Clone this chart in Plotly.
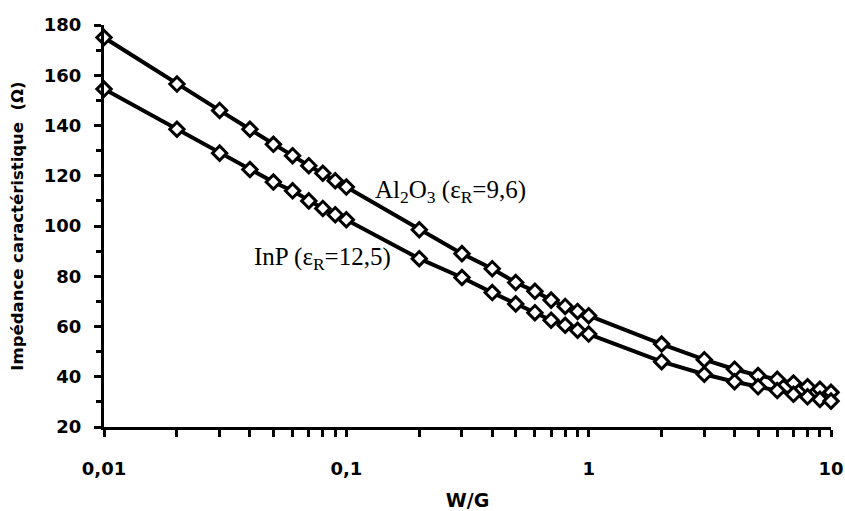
import plotly.graph_objects as go

wg = [0.01, 0.02, 0.03, 0.04, 0.05, 0.06, 0.07, 0.08, 0.09,
      0.1, 0.2, 0.3, 0.4, 0.5, 0.6, 0.7, 0.8, 0.9,
      1, 2, 3, 4, 5, 6, 7, 8, 9, 10]
z_al2o3 = [175, 156.5, 146, 138.5, 132.5, 128, 124, 121, 118,
           115.5, 98.5, 89, 83, 77.5, 74, 70.5, 68, 66,
           64.3, 53, 46.8, 43, 40.5, 39, 37.5, 36, 35, 33.8]
z_inp = [154.5, 138.5, 129, 122.5, 117.5, 114, 110, 107, 104.5,
         102.5, 87, 79.5, 73.5, 69, 65.5, 62.5, 60.5, 58.5,
         57, 46, 41, 38, 36, 34.5, 33, 32, 31, 30.3]

x_tickvals = [0.01, 0.02, 0.03, 0.04, 0.05, 0.06, 0.07, 0.08, 0.09,
              0.1, 0.2, 0.3, 0.4, 0.5, 0.6, 0.7, 0.8, 0.9,
              1, 2, 3, 4, 5, 6, 7, 8, 9, 10]
x_ticktext = ["0,01", "", "", "", "", "", "", "", "",
              "0,1", "", "", "", "", "", "", "", "",
              "1", "", "", "", "", "", "", "", "", "10"]
y_tickvals = [20, 40, 60, 80, 100, 120, 140, 160, 180]

fig = go.Figure()
for name, ys in [("Al2O3", z_al2o3), ("InP", z_inp)]:
    fig.add_trace(go.Scatter(
        x=wg, y=ys, mode="lines+markers", name=name,
        line=dict(color="black", width=4),
        marker=dict(symbol="diamond", size=11, color="white",
                    line=dict(color="black", width=3)),
        cliponaxis=False, showlegend=False))

tick_font = dict(family="DejaVu Sans", size=18, color="black", weight="bold")
ytitle_font = dict(family="DejaVu Sans", size=16.5, color="black", weight="bold")
xtitle_font = dict(family="DejaVu Sans", size=19, color="black", weight="bold")
fig.update_xaxes(type="log", range=[-2, 1], tickvals=x_tickvals, ticktext=x_ticktext,
                 showline=True, linewidth=3, linecolor="black", ticks="outside",
                 ticklen=7, tickwidth=3, tickcolor="black", showgrid=False, zeroline=False,
                 tickfont=tick_font, ticklabelstandoff=16, automargin=False,
                 title=dict(text="W/G", font=xtitle_font, standoff=25))
fig.update_yaxes(range=[20, 180], tickvals=y_tickvals,
                 showline=True, linewidth=3, linecolor="black", ticks="outside",
                 ticklen=7, tickwidth=3, tickcolor="black", showgrid=False, zeroline=False,
                 minor=dict(dtick=10, ticks="outside", ticklen=5, tickwidth=3, tickcolor="black", showgrid=False),
                 tickfont=tick_font, ticklabelstandoff=9, automargin=False,
                 title=dict(text="Impédance caractéristique  (Ω)", font=ytitle_font, standoff=17))

annfont = dict(family="Liberation Serif", size=25, color="black")
fig.add_annotation(x=0.476, y=0.585, xref="paper", yref="paper", showarrow=False,
                   xanchor="center", yanchor="middle",
                   text="Al<sub>2</sub>O<sub>3</sub> (ε<sub>R</sub>=9,6)", font=annfont)
fig.add_annotation(x=0.30, y=0.42, xref="paper", yref="paper", showarrow=False,
                   xanchor="center", yanchor="middle",
                   text="InP (ε<sub>R</sub>=12,5)", font=annfont)

fig.update_layout(width=845, height=511, margin=dict(l=104, r=14, t=25, b=84),
                  plot_bgcolor="white", paper_bgcolor="white")
fig.write_html("out.html", config={"displayModeBar": False},
               post_script="document.body.style.margin='0';document.body.style.overflow='hidden';")
